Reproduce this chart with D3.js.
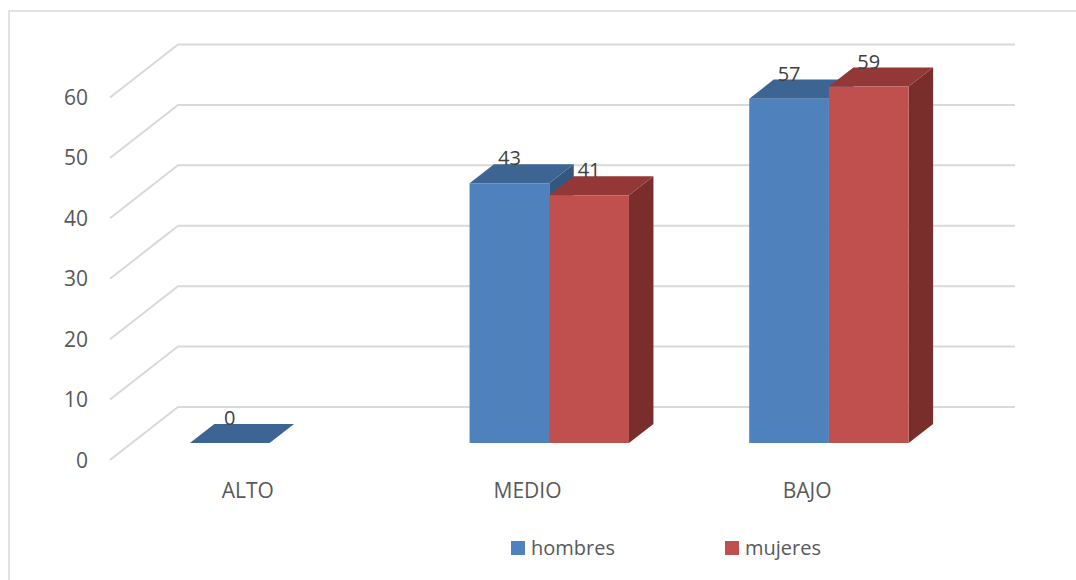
<!DOCTYPE html>
<html>
<head>
<meta charset="utf-8">
<script src="https://cdn.jsdelivr.net/npm/d3@7"></script>
<style>
  body { margin: 0; background: #fff; }
  text { font-family: "Open Sans", sans-serif; }
</style>
</head>
<body>
<div id="chart"></div>
<script>
// data
var categories = ["ALTO", "MEDIO", "BAJO"];
var series = ["hombres", "mujeres"];
var hombres = [0, 43, 57];
var mujeres = [null, 41, 59];   // no bar for ALTO
var yTicks = [0, 10, 20, 30, 40, 50, 60];

var width = 1076, height = 580;

// colours: front, top, side
var colors = {
  hombres: {front: "#4F81BD", top: "#3D6593", side: "#34577F"},
  mujeres: {front: "#C0504D", top: "#933836", side: "#7A2E2C"}
};

// oblique 3d: full floor depth vector
var depthX = 68, depthY = -53;
var barFront = 0.32, barBack = 0.68;

var y = d3.scaleLinear().domain([0, 60]).range([460, 97.5]);

var x0 = d3.scaleBand()
    .domain(categories)
    .range([108, 947])
    .paddingInner(0.43)
    .paddingOuter(0.215);

var x1 = d3.scaleBand()
    .domain(series)
    .range([0, x0.bandwidth()]);

// project a point (x on floor front, value, depth fraction)
function pt(x, v, f) {
  return [x + f * depthX, y(v) + f * depthY];
}

var svg = d3.select("#chart").append("svg")
    .attr("width", width)
    .attr("height", height);

// chart border (only top/left visible)
svg.append("rect")
    .attr("x", 9).attr("y", 11)
    .attr("width", 1200).attr("height", 800)
    .attr("fill", "none")
    .attr("stroke", "#D9D9D9")
    .attr("stroke-width", 1.5);

// gridlines: side wall diagonal + back wall horizontal
var grid = svg.append("g").attr("class", "grid");
yTicks.forEach(function(t) {
  var a = pt(110, t, 0), b = pt(110, t, 1), c = pt(947, t, 1);
  grid.append("polyline")
      .attr("points", [a, b, c].map(function(p) { return p.join(","); }).join(" "))
      .attr("fill", "none")
      .attr("stroke", "#D9D9D9")
      .attr("stroke-width", 2);
});

// y tick labels
svg.append("g").selectAll("text")
    .data(yTicks)
    .enter().append("text")
    .attr("x", 88)
    .attr("y", function(d) { return y(d); })
    .attr("dy", "0.36em")
    .attr("text-anchor", "end")
    .attr("font-size", 21)
    .attr("fill", "#595959")
    .text(function(d) { return d; });

// category labels
svg.append("g").selectAll("text")
    .data(categories)
    .enter().append("text")
    .attr("x", function(d) { return x0(d) + x0.bandwidth() / 2; })
    .attr("y", 498)
    .attr("text-anchor", "middle")
    .attr("font-size", 21)
    .attr("fill", "#595959")
    .text(function(d) { return d; });

// bars
var values = {hombres: hombres, mujeres: mujeres};
var bars = [];
categories.forEach(function(c, i) {
  series.forEach(function(s) {
    if (values[s][i] != null) bars.push({cat: c, key: s, value: values[s][i]});
  });
});

function poly(points) {
  return "M" + points.map(function(p) { return p.join(","); }).join("L") + "Z";
}

var barG = svg.append("g").selectAll("g")
    .data(bars)
    .enter().append("g");

barG.each(function(d) {
  var g = d3.select(this);
  var xl = x0(d.cat) + x1(d.key), xr = xl + x1.bandwidth();
  var col = colors[d.key];
  // side
  g.append("path")
      .attr("d", poly([pt(xr, 0, barFront), pt(xr, d.value, barFront), pt(xr, d.value, barBack), pt(xr, 0, barBack)]))
      .attr("fill", col.side);
  // top
  g.append("path")
      .attr("d", poly([pt(xl, d.value, barFront), pt(xr, d.value, barFront), pt(xr, d.value, barBack), pt(xl, d.value, barBack)]))
      .attr("fill", col.top);
  // front
  g.append("path")
      .attr("d", poly([pt(xl, 0, barFront), pt(xr, 0, barFront), pt(xr, d.value, barFront), pt(xl, d.value, barFront)]))
      .attr("fill", col.front);
});

// value labels
barG.append("text")
    .attr("x", function(d) { return pt(x0(d.cat) + x1(d.key) + x1.bandwidth() / 2, 0, barFront)[0]; })
    .attr("y", function(d) { return pt(0, d.value, barBack)[1] + 1; })
    .attr("text-anchor", "middle")
    .attr("font-size", 20)
    .attr("fill", "#404040")
    .text(function(d) { return d.value; });

// legend
var legend = svg.append("g").selectAll("g")
    .data(series)
    .enter().append("g")
    .attr("transform", function(d, i) { return "translate(" + (511 + i * 214) + ",541)"; });

legend.append("rect")
    .attr("width", 14).attr("height", 14)
    .attr("fill", function(d) { return colors[d].front; });

legend.append("text")
    .attr("x", 20).attr("y", 14)
    .attr("font-size", 20)
    .attr("fill", "#595959")
    .text(function(d) { return d; });
</script>
</body>
</html>
